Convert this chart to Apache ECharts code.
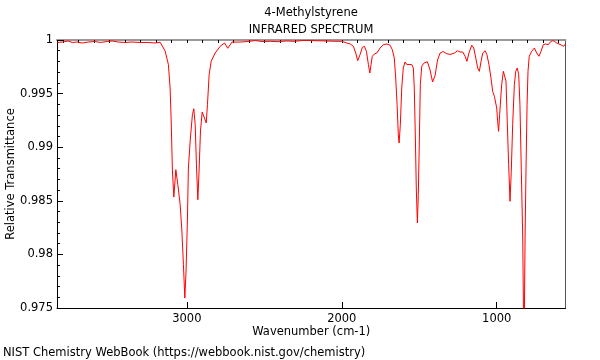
<!DOCTYPE html>
<html>
<head>
<meta charset="utf-8">
<script src="https://cdn.jsdelivr.net/npm/echarts@6/dist/echarts.min.js"></script>
<style>html,body{margin:0;padding:0;background:#fff}#c{width:600px;height:360px}</style>
</head>
<body>
<div id="c"></div>
<script>
const wavenumbers = [3837,3805,3766,3740,3708,3675,3637,3592,3559,3514,3482,3443,3398,3353,3301,3250,3205,3172,
3140,3119,3108,3101,3093,3084,3071,3058,3043,3032,3022,3013,3005,2996,2990,2977,2964,2955,2946,2938,2929,2921,2912,2901,2886,2875,2867,2856,2843,2817,2785,2757,2736,2708,
2656,2605,2559,2514,2463,2411,2359,2308,2256,2205,2153,2101,2043,2000,
1968,1946,1925,1910,1897,1882,1867,1854,1841,1828,1819,1811,1803,1790,1774,1753,1732,1710,1688,1674,1661,1652,1643,1635,1630,1622,1613,1603,1592,1579,1566,1548,1538,1532,1525,1519,1512,1506,1499,1493,1484,1471,1448,1430,1414,1398,1382,1366,1347,1325,1301,1272,1253,1237,1219,1204,1192,1179,1161,1148,1135,1123,1112,1101,1090,1075,1063,1050,1037,1026,1015,1008,1000,994,988,981,968,957,948,940,932,923,914,906,897,886,877,867,858,850,841,832,824,817,811,804,798,790,774,757,742,727,714,699,684,667,654,641,628,613,598,581,568,556];

const transmittance = [0.99977,0.99981,0.99991,0.99977,0.99981,0.99972,0.99981,0.99986,0.99977,0.99986,0.99991,0.99981,0.99977,0.99981,0.99977,0.99977,0.99972,0.99979,
0.99897,0.99770,0.99552,0.99244,0.98778,0.98535,0.98790,0.98650,0.98464,0.98218,0.97904,0.97593,0.97845,0.98340,0.98806,0.99086,0.99303,0.99359,0.99210,0.98837,0.98510,0.98778,0.99151,0.99328,0.99272,0.99226,0.99396,0.99676,0.99801,0.99879,0.99941,0.99972,0.99923,0.99981,
0.99981,0.99986,0.99995,0.99986,0.99988,0.99984,0.99991,0.99988,0.99995,0.99995,0.99993,0.99991,0.99988,0.99988,
0.99972,0.99963,0.99941,0.99879,0.99807,0.99863,0.99932,0.99941,0.99895,0.99770,0.99692,0.99770,0.99848,0.99869,0.99879,0.99925,0.99956,0.99963,0.99951,0.99910,0.99832,0.99646,0.99396,0.99117,0.99039,0.99210,0.99552,0.99739,0.99795,0.99770,0.99772,0.99770,0.99739,0.99552,0.99086,0.98619,0.98293,0.98557,0.99086,0.99583,0.99755,0.99783,0.99798,0.99720,0.99608,0.99667,0.99813,0.99877,0.99893,0.99874,0.99865,0.99879,0.99900,0.99888,0.99888,0.99848,0.99801,0.99879,0.99951,0.99925,0.99832,0.99739,0.99708,0.99801,0.99879,0.99900,0.99863,0.99770,0.99646,0.99521,0.99475,0.99484,0.99366,0.99242,0.99148,0.99303,0.99583,0.99708,0.99723,0.99615,0.99242,0.98837,0.98495,0.98775,0.99210,0.99583,0.99708,0.99739,0.99676,0.99396,0.98775,0.98153,0.97000,0.98153,0.98778,0.99396,0.99708,0.99848,0.99895,0.99925,0.99879,0.99848,0.99895,0.99956,0.99963,0.99956,0.99981,0.99993,0.99988,0.99972,0.99963,0.99951,0.99941,0.99963];

const xMajorTicks = [1000, 2000, 3000];
const xMinorTicks = [600,700,800,900,1000,1100,1200,1300,1400,1500,1600,1700,1800,1900,2000,2100,2200,2300,2400,2500,2600,2700,2800,2900,3000,3100,3200,3300,3400,3500,3600,3700,3800];
const xRange = [556, 3838];
const yRange = [0.975, 1];

const titleLine1 = '4-Methylstyrene';
const titleLine2 = 'INFRARED SPECTRUM';
const xName = 'Wavenumber (cm-1)';
const yName = 'Relative Transmittance';
const footer = 'NIST Chemistry WebBook (https://webbook.nist.gov/chemistry)';

const FONT = 'DejaVu Sans';
const FS = 11.5;

const chart = echarts.init(document.getElementById('c'), null, {renderer: 'canvas'});
const data = wavenumbers.map((w, i) => [w, transmittance[i]]);

chart.setOption({
  animation: false,
  backgroundColor: '#fff',
  textStyle: {fontFamily: FONT},
  grid: {left: 57, right: 34.5, top: 40, bottom: 52, containLabel: false, outerBoundsMode: 'none'},
  xAxis: [
    {
      type: 'value', min: xRange[0], max: xRange[1], inverse: true,
      name: xName, nameLocation: 'middle', nameGap: 18, nameMoveOverlap: false,
      nameTextStyle: {fontFamily: FONT, fontSize: FS, color: '#000'},
      axisLine: {show: true, lineStyle: {color: '#000', width: 1}},
      axisTick: {show: true, inside: true, length: 6, customValues: xMajorTicks, lineStyle: {color: '#000'}},
      axisLabel: {show: true, customValues: xMajorTicks, margin: 5, fontFamily: FONT, fontSize: FS, color: '#000',
        formatter: v => String(v)},
      splitLine: {show: false}
    },
    {
      type: 'value', min: xRange[0], max: xRange[1], inverse: true,
      axisLine: {show: false},
      axisTick: {show: true, inside: true, length: 3, customValues: xMinorTicks, lineStyle: {color: '#000'}},
      axisLabel: {show: false},
      splitLine: {show: false}
    },
    {
      type: 'value', position: 'top', min: xRange[0], max: xRange[1], inverse: true,
      axisLine: {show: true, lineStyle: {color: '#999', width: 2}},
      axisTick: {show: false}, axisLabel: {show: false}, splitLine: {show: false}
    }
  ],
  yAxis: [
    {
      type: 'value', min: yRange[0], max: yRange[1], interval: 0.005,
      name: yName, nameLocation: 'middle', nameGap: 40, nameMoveOverlap: false,
      nameTextStyle: {fontFamily: FONT, fontSize: FS, color: '#000'},
      axisLine: {show: true, lineStyle: {color: '#000', width: 1}},
      axisTick: {show: true, inside: true, length: 6, lineStyle: {color: '#000'}},
      minorTick: {show: true, splitNumber: 5, length: 3, lineStyle: {color: '#000'}},
      axisLabel: {margin: 4, fontFamily: FONT, fontSize: FS, color: '#000',
        formatter: v => String(parseFloat(v.toFixed(3)))},
      splitLine: {show: false}, minorSplitLine: {show: false}
    },
    {
      type: 'value', position: 'right', min: yRange[0], max: yRange[1],
      axisLine: {show: true, lineStyle: {color: '#555', width: 1}},
      axisTick: {show: false}, axisLabel: {show: false}, splitLine: {show: false}
    }
  ],
  graphic: [
    {type: 'text', x: 311, y: 13, style: {text: titleLine1, font: FS + 'px "' + FONT + '"', fill: '#000', textAlign: 'center', textVerticalAlign: 'middle'}},
    {type: 'text', x: 311, y: 30, style: {text: titleLine2, font: FS + 'px "' + FONT + '"', fill: '#000', textAlign: 'center', textVerticalAlign: 'middle'}},
    {type: 'text', x: 3, y: 353, style: {text: footer, font: FS + 'px "' + FONT + '"', fill: '#000', textAlign: 'left', textVerticalAlign: 'middle'}}
  ],
  series: [{
    type: 'line', xAxisIndex: 0, yAxisIndex: 0, data: data,
    showSymbol: false, smooth: false, clip: true,
    lineStyle: {color: '#ff0000', width: 1}
  }]
});
</script>
</body>
</html>
